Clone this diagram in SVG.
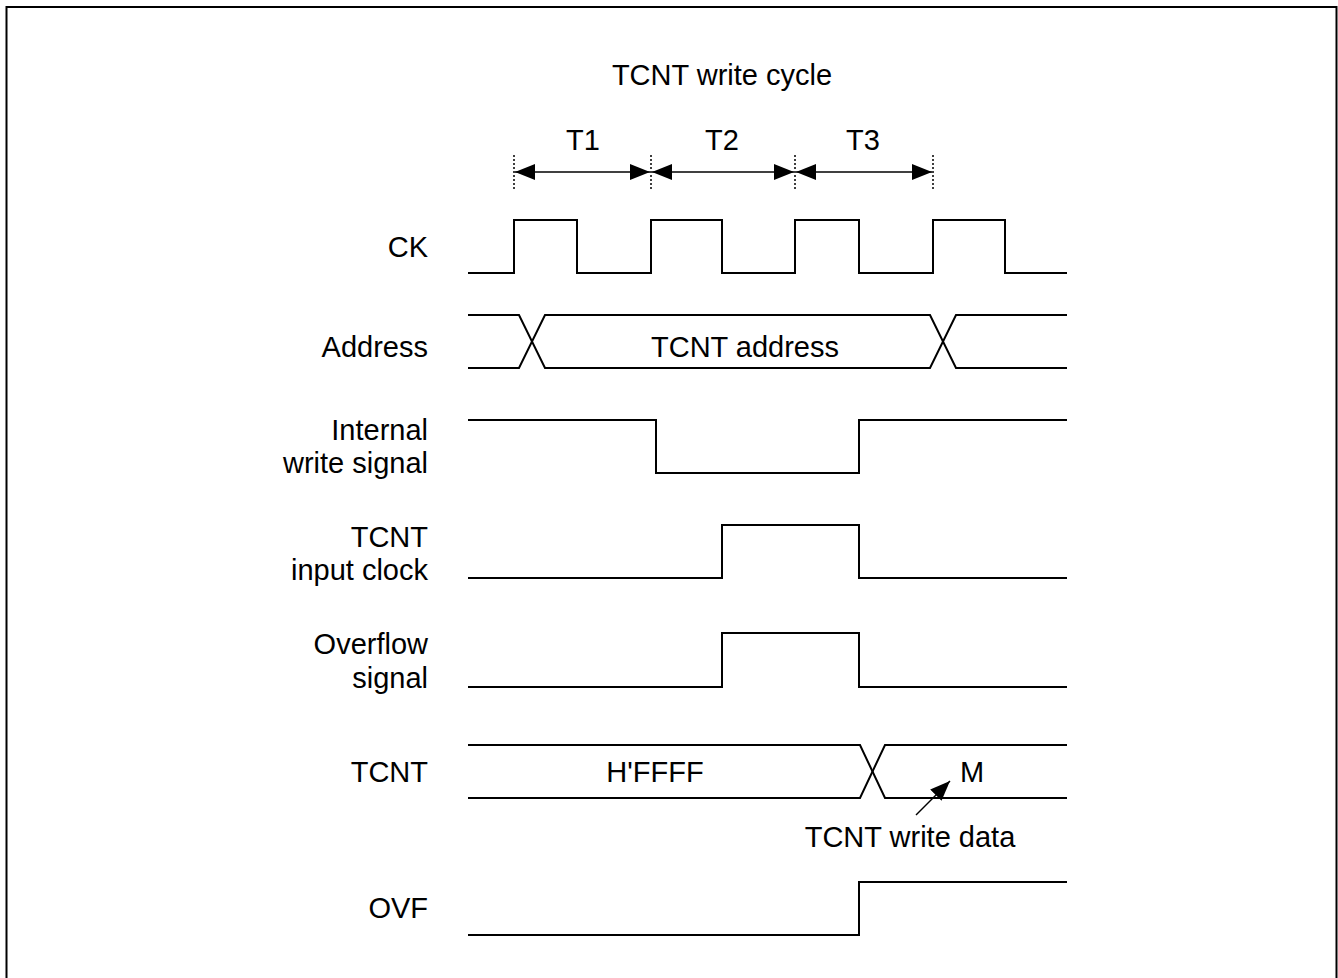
<svg xmlns="http://www.w3.org/2000/svg" width="1338" height="978" viewBox="0 0 1338 978">
<style>
text{font-family:"Liberation Sans",Arial,sans-serif;font-size:29px;fill:#000}
.lbl{text-anchor:end}
.mid{text-anchor:middle}
.w{fill:none;stroke:#000;stroke-width:2}
.dot{stroke:#000;stroke-width:1.5;stroke-dasharray:2,2}
.dim{stroke:#000;stroke-width:1.5;fill:none}
</style>
<defs>
<marker id="ah" viewBox="0 0 20 16" refX="20" refY="8" markerWidth="20" markerHeight="16" markerUnits="userSpaceOnUse" orient="auto-start-reverse"><path d="M0,0 L20,8 L0,16 Z" fill="#000"/></marker>
<marker id="ah2" viewBox="0 0 20 16" refX="20" refY="8" markerWidth="20" markerHeight="16" markerUnits="userSpaceOnUse" orient="auto"><path d="M0,0 L20,8 L0,16 Z" fill="#000"/></marker>
</defs>
<path d="M6.5,990 V7 H1336.5 V990" fill="none" stroke="#000" stroke-width="2"/>
<text class="mid" x="722" y="85">TCNT write cycle</text>
<g id="timing">
<line class="dot" x1="514" y1="155" x2="514" y2="191"/>
<line class="dot" x1="651" y1="155" x2="651" y2="191"/>
<line class="dot" x1="795" y1="155" x2="795" y2="191"/>
<line class="dot" x1="933" y1="155" x2="933" y2="191"/>
<text class="mid" x="583" y="150">T1</text>
<text class="mid" x="722" y="150">T2</text>
<text class="mid" x="863" y="150">T3</text>
</g>
<g id="connectors">
<line class="dim" x1="515" y1="172" x2="650" y2="172" marker-start="url(#ah)" marker-end="url(#ah)"/>
<line class="dim" x1="652" y1="172" x2="794" y2="172" marker-start="url(#ah)" marker-end="url(#ah)"/>
<line class="dim" x1="796" y1="172" x2="932" y2="172" marker-start="url(#ah)" marker-end="url(#ah)"/>
<line class="dim" x1="916" y1="815" x2="950" y2="781" marker-end="url(#ah2)"/>
</g>
<g id="ck">
<text class="lbl" x="428" y="257">CK</text>
<path class="w" d="M468,273 H514 V220 H577 V273 H651 V220 H722 V273 H795 V220 H859 V273 H933 V220 H1005 V273 H1067"/>
</g>
<g id="address">
<text class="lbl" x="428" y="357">Address</text>
<path class="w" d="M468,315 H519 L545,368 H930 L956,315 H1067"/>
<path class="w" d="M468,368 H519 L545,315 H930 L956,368 H1067"/>
<text class="mid" x="745" y="357">TCNT address</text>
</g>
<g id="internal-write">
<text class="lbl" x="428" y="440">Internal</text>
<text class="lbl" x="428" y="473">write signal</text>
<path class="w" d="M468,420 H656 V473 H859 V420 H1067"/>
</g>
<g id="tcnt-clock">
<text class="lbl" x="428" y="547">TCNT</text>
<text class="lbl" x="428" y="580">input clock</text>
<path class="w" d="M468,578 H722 V525 H859 V578 H1067"/>
</g>
<g id="overflow">
<text class="lbl" x="428" y="654">Overflow</text>
<text class="lbl" x="428" y="688">signal</text>
<path class="w" d="M468,687 H722 V633 H859 V687 H1067"/>
</g>
<g id="tcnt">
<text class="lbl" x="428" y="782">TCNT</text>
<path class="w" d="M468,745 H860 L885,798 H1067"/>
<path class="w" d="M468,798 H860 L885,745 H1067"/>
<text class="mid" x="655" y="782">H'FFFF</text>
<text class="mid" x="972" y="782">M</text>
<text class="mid" x="910" y="847">TCNT write data</text>
</g>
<g id="ovf">
<text class="lbl" x="428" y="918">OVF</text>
<path class="w" d="M468,935 H859 V882 H1067"/>
</g>
</svg>
